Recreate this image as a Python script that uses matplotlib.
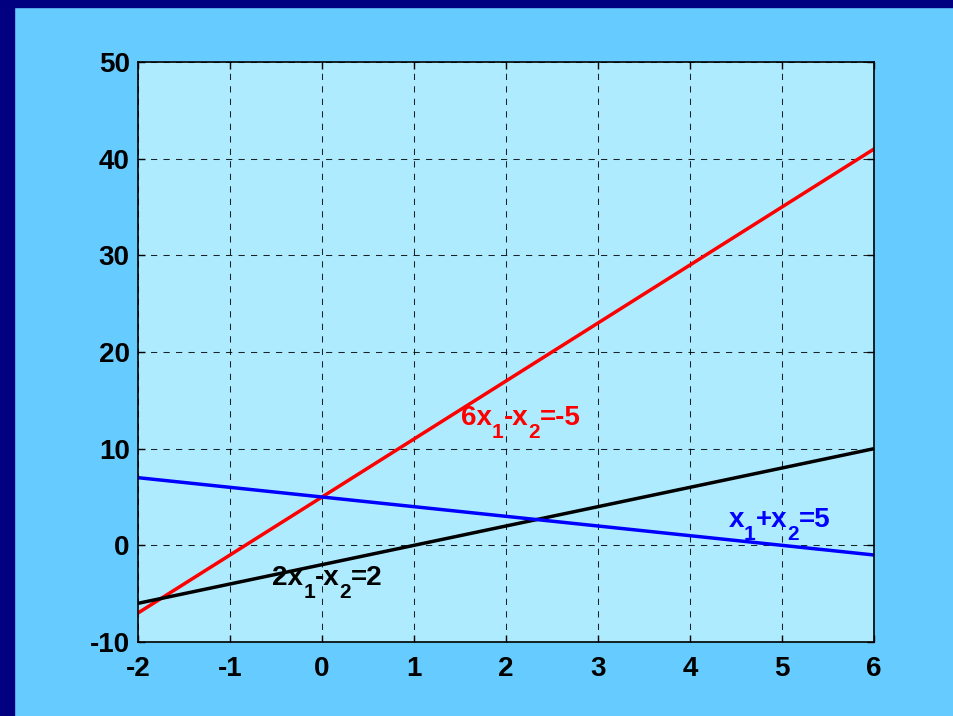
import matplotlib
matplotlib.use("Agg")
import matplotlib.pyplot as plt
from matplotlib.patches import Rectangle

# line endpoints
x1 = [-2, 6]
red_x2 = [-7, 41]     # 6x1 - x2 = -5
black_x2 = [-6, 10]   # 2x1 - x2 = 2
blue_x2 = [7, -1]     # x1 + x2 = 5

xticks = [-2, -1, 0, 1, 2, 3, 4, 5, 6]
yticks = [-10, 0, 10, 20, 30, 40, 50]

plt.rcParams["font.family"] = "Liberation Sans"
plt.rcParams["font.weight"] = "bold"
plt.rcParams["axes.unicode_minus"] = False

BG = "#66CCFF"
AX_BG = "#AEEBFF"
NAVY = "#000080"


def sub_label(ax, x, y, pieces, color, size=20, sub_size=15):
    """Draw text with MATLAB-like low subscripts; pieces = [(text, is_sub), ...]."""
    first = ax.text(x, y, pieces[0][0], color=color, fontsize=size,
                    fontweight="bold", va="baseline", ha="left")
    prev = first
    for s, is_sub in pieces[1:]:
        prev = ax.annotate(s, xy=(1, 0), xycoords=(prev, first),
                           xytext=(0, -8 if is_sub else 0), textcoords="offset points",
                           color=color, fontsize=sub_size if is_sub else size,
                           fontweight="bold", va="bottom", ha="left")


fig = plt.figure(figsize=(9.54, 7.16), dpi=100, facecolor=BG)
fig.patches.append(Rectangle((0, 1 - 7 / 716), 1, 7 / 716, transform=fig.transFigure,
                             color=NAVY, zorder=0))
fig.patches.append(Rectangle((0, 0), 14 / 954, 1, transform=fig.transFigure,
                             color=NAVY, zorder=0))

ax = fig.add_axes([138 / 954, 1 - 642 / 716, 736 / 954, 580 / 716], facecolor=AX_BG)
ax.plot(x1, red_x2, color="#FF0000", lw=2.5)
ax.plot(x1, black_x2, color="black", lw=2.5)
ax.plot(x1, blue_x2, color="#0000FF", lw=2.5)

ax.set_xlim(-2, 6)
ax.set_ylim(-10, 50)
ax.set_xticks(xticks)
ax.set_yticks(yticks)
ax.tick_params(direction="in", labelsize=20, length=5, width=1, pad=10,
               top=True, right=True)
ax.tick_params(axis="y", pad=6)
ax.grid(True, color="black", linestyle=(0, (6, 6)), linewidth=0.75, alpha=0.85)
for s in ax.spines.values():
    s.set_linewidth(1.2)

sub_label(ax, 1.51, 12.45, [("6x", False), ("1", True), ("-x", False), ("2", True),
                            ("=-5", False)], "#FF0000")
sub_label(ax, -0.54, -4.1, [("2x", False), ("1", True), ("-x", False), ("2", True),
                            ("=2", False)], "black")
sub_label(ax, 4.42, 1.9, [("x", False), ("1", True), ("+x", False), ("2", True),
                          ("=5", False)], "#0000FF")

fig.savefig("out.png", dpi=100, facecolor=BG)
